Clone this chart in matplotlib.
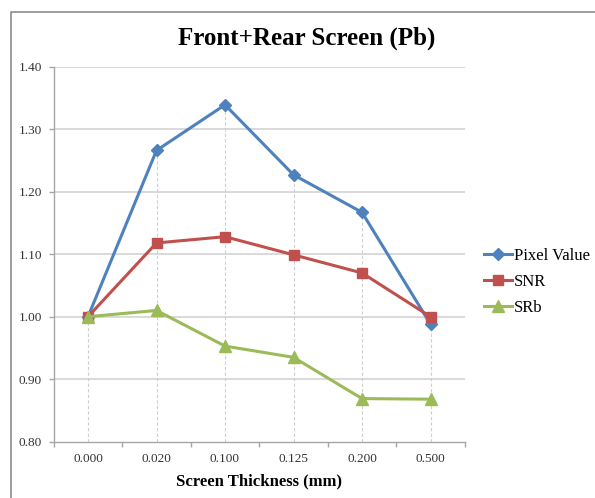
import matplotlib.pyplot as plt
from matplotlib.lines import Line2D

# data
thickness = ['0.000', '0.020', '0.100', '0.125', '0.200', '0.500']
pixel_value = [1.000, 1.266, 1.339, 1.227, 1.167, 0.988]
snr = [1.000, 1.118, 1.128, 1.099, 1.070, 1.000]
srb = [1.000, 1.010, 0.953, 0.935, 0.869, 0.868]
y_ticks = [0.80, 0.90, 1.00, 1.10, 1.20, 1.30, 1.40]

plt.rcParams['font.family'] = ['Liberation Serif', 'DejaVu Serif']

W, H = 595, 498
fig = plt.figure(figsize=(W / 100, H / 100), dpi=100)
ax = fig.add_axes([53.75 / W, 1 - 441.7 / H, 411 / W, 375 / H])

x = list(range(len(thickness)))
grid_c = '#d9d9d9'
axis_c = '#a6a6a6'

# y gridlines
for v in y_ticks[1:]:
    ax.axhline(v, color=grid_c, lw=1.4, zorder=0)

# drop lines (Excel style)
tops = [max(a, b, c) for a, b, c in zip(pixel_value, snr, srb)]
ax.vlines(x, y_ticks[0], tops, colors='#cfcfcf', linestyles=(0, (3, 2)), lw=0.8, zorder=1)

ax.plot(x, pixel_value, color='#4F81BD', lw=2.2, marker='D', ms=6.5, label='Pixel Value', zorder=3)
ax.plot(x, snr, color='#C0504D', lw=2.2, marker='s', ms=7, label='SNR', zorder=4)
ax.plot(x, srb, color='#9BBB59', lw=2.2, marker='^', ms=8, label='SRb', zorder=5)

ax.set_xlim(-0.5, len(thickness) - 0.5)
ax.set_ylim(0.8, 1.4)
ax.set_yticks(y_ticks)
ax.set_yticklabels(['%.2f' % v for v in y_ticks], fontsize=9.5, color='#333333')
ax.set_xticks(x)
ax.set_xticklabels(thickness, fontsize=9.5, color='#333333')
ax.set_xticks([i - 0.5 for i in range(len(thickness) + 1)], minor=True)
ax.tick_params(axis='x', which='major', length=0, pad=8)
ax.tick_params(axis='x', which='minor', length=3.5, color=axis_c, width=1)
ax.tick_params(axis='y', length=3.5, color=axis_c, width=1, pad=5)

for s in ['top', 'right']:
    ax.spines[s].set_visible(False)
for s in ['left', 'bottom']:
    ax.spines[s].set_color(axis_c)
    ax.spines[s].set_linewidth(1)

ax.set_xlabel('Screen Thickness (mm)', fontsize=12, fontweight='bold', labelpad=6)

fig.text(307 / W, 1 - 45 / H, 'Front+Rear Screen (Pb)', fontsize=18, fontweight='bold',
         ha='center', va='baseline')

ax.legend(loc='center left', bbox_to_anchor=(484 / W, 1 - 281.5 / H), bbox_transform=fig.transFigure,
          frameon=False, fontsize=12, handlelength=1.7, handletextpad=0.12, labelspacing=0.6,
          borderpad=0, borderaxespad=0)

# chart frame (cropped: only left and top edges visible)
fig.add_artist(Line2D([10.7 / W, 10.7 / W, 1], [0, 1 - 11.7 / H, 1 - 11.7 / H],
                      transform=fig.transFigure, color='#8c8c8c', lw=1.2))

fig.savefig('out.png', dpi=100)
